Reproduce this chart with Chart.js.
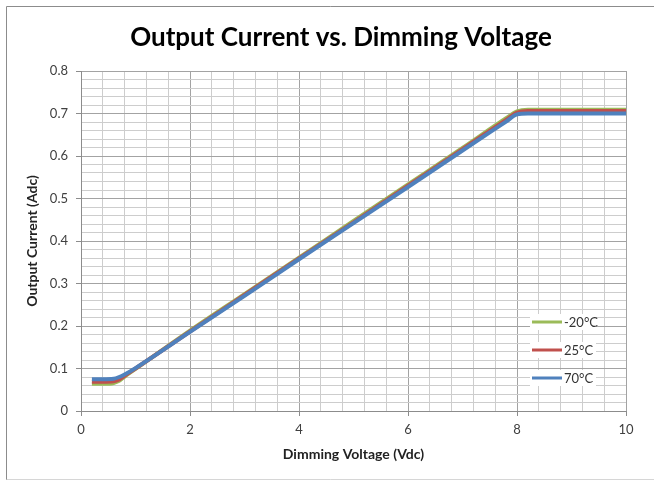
<!DOCTYPE html>
<html>
<head>
<meta charset="utf-8">
<script src="https://cdn.jsdelivr.net/npm/chart.js@4/dist/chart.umd.min.js"></script>
<style>
  html, body { margin: 0; padding: 0; background: #ffffff; }
  #wrap { position: relative; width: 654px; height: 481px; }
</style>
</head>
<body>
<div id="wrap"><canvas id="chart" width="654" height="481"></canvas></div>
<script>
// Dimming voltage (Vdc) sample points
const voltage = [0.2, 0.4, 0.6, 0.7, 0.8, 1.0, 2.0, 3.0, 4.0, 5.0, 6.0, 7.0, 7.8, 8.0, 8.2, 9.0, 10.0];

// Output current (Adc) per ambient temperature
const currentMinus20 = [0.064, 0.064, 0.066, 0.071, 0.081, 0.099, 0.189, 0.275, 0.361, 0.447, 0.533, 0.619, 0.689, 0.705, 0.709, 0.709, 0.709];
const current25      = [0.069, 0.069, 0.070, 0.074, 0.083, 0.100, 0.187, 0.273, 0.359, 0.444, 0.530, 0.616, 0.685, 0.702, 0.706, 0.706, 0.706];
const current70      = [0.075, 0.075, 0.076, 0.080, 0.086, 0.101, 0.186, 0.271, 0.357, 0.442, 0.527, 0.613, 0.681, 0.698, 0.700, 0.700, 0.700];

const seriesLabels = ['-20°C', '25°C', '70°C'];
const seriesColors = ['#9bbb59', '#c0504d', '#4f81bd'];

const chartTitle = 'Output Current vs. Dimming Voltage';

// Labelled (major) ticks; minor grid lines split each interval in five
const xTickLabels = [0, 2, 4, 6, 8, 10];
const yTickLabels = [0, 0.1, 0.2, 0.3, 0.4, 0.5, 0.6, 0.7, 0.8];
const minorDivisions = 5;

const round = v => Math.round(v * 1e6) / 1e6;

function buildTicks(majors) {
  const ticks = [];
  for (let i = 0; i < majors.length; i++) {
    ticks.push({ value: majors[i], major: true });
    if (i < majors.length - 1) {
      const step = (majors[i + 1] - majors[i]) / minorDivisions;
      for (let j = 1; j < minorDivisions; j++) {
        ticks.push({ value: round(majors[i] + j * step), major: false });
      }
    }
  }
  return ticks;
}

function isMajor(list, v) {
  return list.some(m => Math.abs(m - v) < 1e-6);
}

const seriesValues = [currentMinus20, current25, current70];

const datasets = seriesValues.map((vals, i) => ({
  label: seriesLabels[i],
  data: voltage.map((v, k) => ({ x: v, y: vals[k] })),
  borderColor: seriesColors[i],
  backgroundColor: seriesColors[i],
  borderWidth: 4,
  pointRadius: 0,
  fill: false,
  cubicInterpolationMode: 'monotone',
  order: seriesValues.length - i
}));

const FONT = 'Lato, "Open Sans", "DejaVu Sans", sans-serif';

// Chart heading, placed in the band above the plot area
const heading = {
  id: 'heading',
  afterDraw(chart) {
    const { ctx } = chart;
    ctx.save();
    ctx.font = 'bold 26px ' + FONT;
    ctx.fillStyle = '#000000';
    ctx.textAlign = 'center';
    ctx.textBaseline = 'middle';
    ctx.fillText(chartTitle, chart.width / 2 + 14, 38);
    ctx.restore();
  }
};

// Legend drawn inside the plot area, right side
const insideLegend = {
  id: 'insideLegend',
  afterDatasetsDraw(chart) {
    const { ctx, chartArea } = chart;
    const x0 = chartArea.right - 94;
    const y0 = chartArea.top + 251;
    ctx.save();
    ctx.font = '13px ' + FONT;
    ctx.textBaseline = 'middle';
    ctx.textAlign = 'left';
    chart.data.datasets.forEach((ds, i) => {
      const y = y0 + i * 28;
      ctx.fillStyle = '#ffffff';
      ctx.fillRect(x0 - 2, y - 8, 66, 16);
      ctx.strokeStyle = ds.borderColor;
      ctx.lineWidth = 3;
      ctx.beginPath();
      ctx.moveTo(x0, y);
      ctx.lineTo(x0 + 30, y);
      ctx.stroke();
      ctx.fillStyle = '#333333';
      ctx.fillText(ds.label, x0 + 32, y + 1);
    });
    ctx.restore();
  }
};

// Outer chart frame
const frame = {
  id: 'frame',
  afterDraw(chart) {
    const { ctx } = chart;
    ctx.save();
    ctx.lineWidth = 1;
    ctx.strokeStyle = '#8c8c8c';
    ctx.beginPath();
    ctx.moveTo(6.5, 480);
    ctx.lineTo(6.5, 6.5);
    ctx.lineTo(654, 6.5);
    ctx.stroke();
    ctx.strokeStyle = '#d6d6d6';
    ctx.beginPath();
    ctx.moveTo(6.5, 479.5);
    ctx.lineTo(654, 479.5);
    ctx.stroke();
    ctx.restore();
  }
};

function gridOptions(majors) {
  return {
    color: ctx => (ctx.tick && isMajor(majors, ctx.tick.value)) ? '#a3a3a3' : '#cdcdcd',
    tickColor: ctx => (ctx.tick && isMajor(majors, ctx.tick.value)) ? '#8c8c8c' : 'rgba(0,0,0,0)',
    tickLength: 5,
    lineWidth: 1
  };
}

new Chart(document.getElementById('chart'), {
  type: 'line',
  data: { datasets },
  options: {
    responsive: false,
    animation: false,
    layout: { padding: { left: 7, top: 71, right: 28, bottom: 7 } },
    plugins: {
      legend: { display: false },
      tooltip: { enabled: false },
      title: { display: false }
    },
    scales: {
      x: {
        type: 'linear',
        min: xTickLabels[0],
        max: xTickLabels[xTickLabels.length - 1],
        afterBuildTicks: s => { s.ticks = buildTicks(xTickLabels); },
        afterFit: s => { s.height = 63; },
        ticks: {
          autoSkip: false,
          maxRotation: 0,
          padding: 6,
          color: '#404040',
          font: { family: FONT, size: 13 },
          callback: v => isMajor(xTickLabels, v) ? String(round(v)) : ''
        },
        grid: gridOptions(xTickLabels),
        border: { color: '#8c8c8c', width: 1 },
        title: {
          display: true,
          text: 'Dimming Voltage (Vdc)',
          color: '#222222',
          font: { family: FONT, size: 14, weight: 'bold' },
          padding: { top: 4, bottom: 11 }
        }
      },
      y: {
        type: 'linear',
        min: yTickLabels[0],
        max: yTickLabels[yTickLabels.length - 1],
        afterBuildTicks: s => { s.ticks = buildTicks(yTickLabels).reverse(); },
        afterFit: s => { s.width = 74; },
        ticks: {
          autoSkip: false,
          padding: 8,
          color: '#404040',
          font: { family: FONT, size: 13 },
          callback: v => isMajor(yTickLabels, v) ? String(round(v)) : ''
        },
        grid: gridOptions(yTickLabels),
        border: { color: '#8c8c8c', width: 1 },
        title: {
          display: true,
          text: 'Output Current (Adc)',
          color: '#222222',
          font: { family: FONT, size: 14, weight: 'bold' },
          padding: { top: 17, bottom: 0 }
        }
      }
    }
  },
  plugins: [heading, insideLegend, frame]
});
</script>
</body>
</html>
